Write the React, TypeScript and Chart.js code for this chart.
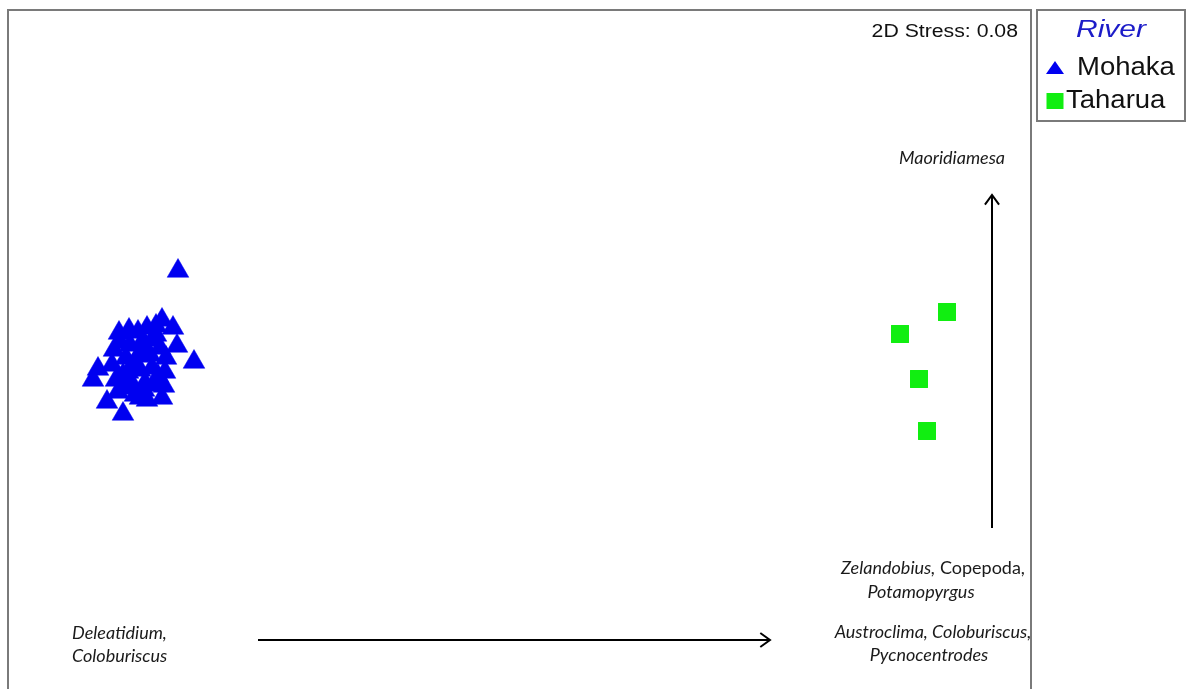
import React, { useEffect, useRef } from "react";
import { Chart, registerables } from "chart.js";

Chart.register(...registerables);

// ---- Data (NMDS ordination coordinates) ----
const mohakaX = [
  -1.368, -1.304, -1.688, -1.708, -1.588, -1.652, -1.604, -1.564, -1.492, -1.432,
  -1.388, -1.456, -1.528, -1.372, -1.416, -1.42, -1.424, -1.432, -1.492, -1.54,
  -1.58, -1.616, -1.632, -1.624, -1.6, -1.56, -1.512, -1.472, -1.44, -1.48,
  -1.528, -1.576, -1.568, -1.52, -1.472, -1.5, -1.552, -1.46, -1.608, -1.52,
  -1.496, -1.544, -1.448, -1.588, -1.504, -1.456,
];
const mohakaY = [
  0.316, -0.048, -0.076, -0.12, -0.256, -0.208, 0.068, 0.08, 0.088, 0.12,
  0.088, 0.096, 0.072, 0.016, -0.032, -0.088, -0.144, -0.192, -0.2, -0.18,
  -0.152, -0.12, -0.06, 0.0, 0.032, 0.02, 0.032, 0.04, 0.008, -0.02,
  -0.024, -0.032, -0.088, -0.08, -0.072, -0.132, -0.136, -0.14, -0.168, -0.192,
  0.0, -0.056, -0.104, -0.1, -0.16, 0.06,
];
const taharuaX = [1.708, 1.52, 1.596, 1.628];
const taharuaY = [0.152, 0.064, -0.116, -0.324];

const seriesNames = ["Mohaka", "Taharua"];
const legendTitle = "River";
const stressText = "2D Stress: 0.08";

// Taxa vectors (start -> end, ordination units)
const vectorStartX = [1.888, -1.048];
const vectorStartY = [-0.712, -1.16];
const vectorEndX = [1.888, 1.0];
const vectorEndY = [0.62, -1.16];

// Taxa labels: each line made of segments [text, italic]
type Seg = [string, boolean];
const labelLines: Seg[][] = [
  [["Maoridiamesa", true]],
  [["Zelandobius,", true], [" Copepoda,", false]],
  [["Potamopyrgus", true]],
  [["Austroclima, Coloburiscus,", true]],
  [["Pycnocentrodes", true]],
  [["Deleatidium,", true]],
  [["Coloburiscus", true]],
];
const labelX = [1.728, 1.652, 1.604, 1.652, 1.636, -1.792, -1.792];
const labelY = [0.768, -0.872, -0.968, -1.128, -1.22, -1.132, -1.224];
const labelAlign = ["center", "center", "center", "center", "center", "left", "left"];

const X_MIN = -2.048;
const X_MAX = 2.044;
const Y_MIN = -1.356;
const Y_MAX = 1.36;

const BLUE = "#0000f0";
const GREEN = "#11ee11";
const FRAME = "#7a7a7a";
const LABEL_FONT = "Lato, 'Open Sans', sans-serif";
const SANS = "'Liberation Sans', Arial, sans-serif";

function stretchedText(
  ctx: CanvasRenderingContext2D,
  text: string,
  x: number,
  y: number,
  font: string,
  color: string,
  sx: number,
  align: "left" | "right" | "center"
) {
  ctx.save();
  ctx.font = font;
  ctx.fillStyle = color;
  ctx.textBaseline = "middle";
  const w = ctx.measureText(text).width * sx;
  let left = x;
  if (align === "right") left = x - w;
  else if (align === "center") left = x - w / 2;
  ctx.translate(left, y);
  ctx.scale(sx, 1);
  ctx.textAlign = "left";
  ctx.fillText(text, 0, 0);
  ctx.restore();
}

const overlayPlugin = {
  id: "nmdsOverlay",
  afterDatasetsDraw(chart: any) {
    const ctx: CanvasRenderingContext2D = chart.ctx;
    const { left, top, right, bottom } = chart.chartArea;
    const xs = chart.scales.x;
    const ys = chart.scales.y;

    // frame (left, top, right)
    ctx.save();
    ctx.strokeStyle = FRAME;
    ctx.lineWidth = 2;
    ctx.beginPath();
    ctx.moveTo(left, bottom + 5);
    ctx.lineTo(left, top);
    ctx.lineTo(right, top);
    ctx.lineTo(right, bottom + 5);
    ctx.stroke();
    ctx.restore();

    // stress
    stretchedText(ctx, stressText, right - 13, top + 22, `18px ${SANS}`, "#111", 1.18, "right");

    // vectors
    ctx.save();
    ctx.strokeStyle = "#000";
    ctx.lineWidth = 2;
    for (let i = 0; i < vectorStartX.length; i++) {
      const x0 = xs.getPixelForValue(vectorStartX[i]);
      const y0 = ys.getPixelForValue(vectorStartY[i]);
      const x1 = xs.getPixelForValue(vectorEndX[i]);
      const y1 = ys.getPixelForValue(vectorEndY[i]);
      ctx.beginPath();
      ctx.moveTo(x0, y0);
      ctx.lineTo(x1, y1);
      ctx.stroke();
      const ang = Math.atan2(y1 - y0, x1 - x0);
      const hl = 12;
      const ha = Math.PI / 5;
      ctx.beginPath();
      ctx.moveTo(x1 - hl * Math.cos(ang - ha), y1 - hl * Math.sin(ang - ha));
      ctx.lineTo(x1, y1);
      ctx.lineTo(x1 - hl * Math.cos(ang + ha), y1 - hl * Math.sin(ang + ha));
      ctx.stroke();
    }
    ctx.restore();

    // labels
    for (let i = 0; i < labelLines.length; i++) {
      const segs = labelLines[i];
      const px = xs.getPixelForValue(labelX[i]);
      const py = ys.getPixelForValue(labelY[i]);
      const sx = 1.0;
      const fonts = segs.map(([, it]) => `${it ? "italic " : ""}18px ${LABEL_FONT}`);
      let total = 0;
      const widths = segs.map(([t], k) => {
        ctx.font = fonts[k];
        const w = ctx.measureText(t).width * sx;
        total += w;
        return w;
      });
      let cx = labelAlign[i] === "center" ? px - total / 2 : px;
      segs.forEach(([t], k) => {
        stretchedText(ctx, t, cx, py, fonts[k], "#1a1a1a", sx, "left");
        cx += widths[k];
      });
    }

    // legend box
    const lx = right + 6;
    const ly = top;
    ctx.save();
    ctx.strokeStyle = FRAME;
    ctx.lineWidth = 2;
    ctx.strokeRect(lx, ly, 148, 111);
    ctx.restore();
    stretchedText(ctx, legendTitle, lx + 74, ly + 20, `italic 24px ${SANS}`, "#1c1cc8", 1.25, "center");

    // legend markers
    const ds = chart.data.datasets;
    const rows = [ly + 58, ly + 91];
    const textX = [lx + 40, lx + 29];
    for (let i = 0; i < ds.length; i++) {
      const cx = lx + 18;
      const cy = rows[i];
      ctx.save();
      ctx.fillStyle = ds[i].backgroundColor;
      ctx.beginPath();
      if (ds[i].pointStyle === "triangle") {
        ctx.moveTo(cx, cy - 7);
        ctx.lineTo(cx + 9, cy + 6);
        ctx.lineTo(cx - 9, cy + 6);
        ctx.closePath();
      } else {
        ctx.rect(cx - 8.5, cy - 8, 17, 16);
      }
      ctx.fill();
      ctx.restore();
      stretchedText(ctx, ds[i].label, textX[i], cy, `25px ${SANS}`, "#111", 1.1, "left");
    }
  },
};

export default function App() {
  const ref = useRef<HTMLCanvasElement | null>(null);
  useEffect(() => {
    if (!ref.current) return;
    const chart = new Chart(ref.current, {
      type: "scatter",
      data: {
        datasets: [
          {
            label: seriesNames[0],
            data: mohakaX.map((x, i) => ({ x, y: mohakaY[i] })),
            pointStyle: "triangle",
            pointRadius: 12.5,
            backgroundColor: BLUE,
            borderColor: BLUE,
            borderWidth: 0.5,
          },
          {
            label: seriesNames[1],
            data: taharuaX.map((x, i) => ({ x, y: taharuaY[i] })),
            pointStyle: "rect",
            pointRadius: 12.7,
            backgroundColor: GREEN,
            borderColor: GREEN,
            borderWidth: 0,
          },
        ],
      },
      options: {
        animation: false,
        responsive: false,
        devicePixelRatio: 1,
        layout: { autoPadding: false, padding: { left: 8, top: 10, right: 155, bottom: 0 } },
        scales: {
          x: { type: "linear", min: X_MIN, max: X_MAX, display: false },
          y: { type: "linear", min: Y_MIN, max: Y_MAX, display: false },
        },
        plugins: {
          legend: { display: false },
          tooltip: { enabled: false },
        },
      },
      plugins: [overlayPlugin],
    } as any);
    return () => chart.destroy();
  }, []);
  return (
    <div style={{ position: "fixed", left: 0, top: 0, width: 1186, height: 689, background: "#fff" }}>
      <canvas ref={ref} width={1186} height={689} style={{ display: "block" }} />
    </div>
  );
}
